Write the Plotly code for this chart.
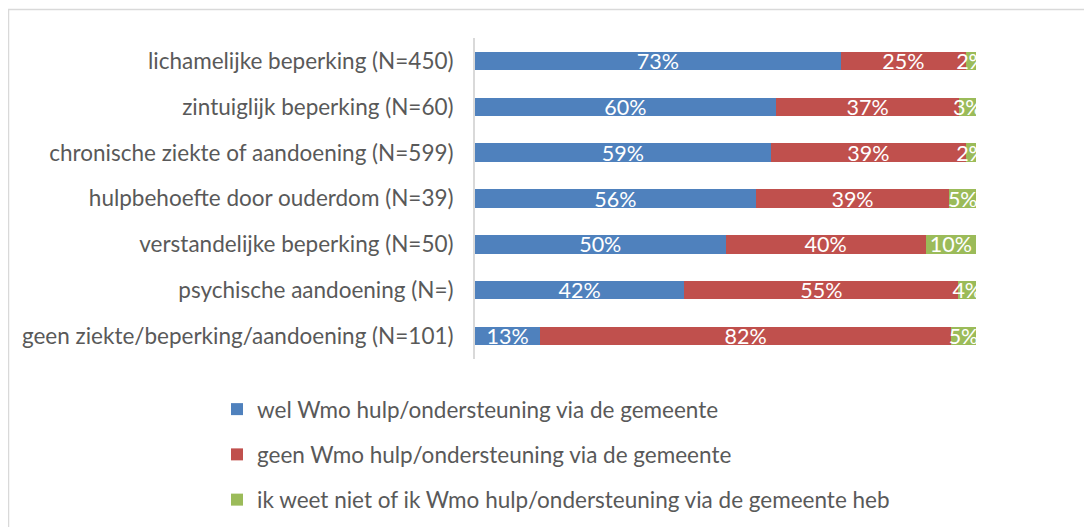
import plotly.graph_objects as go

categories = [
    "lichamelijke beperking (N=450)",
    "zintuiglijk beperking (N=60)",
    "chronische ziekte of aandoening (N=599)",
    "hulpbehoefte door ouderdom (N=39)",
    "verstandelijke beperking (N=50)",
    "psychische aandoening (N=)",
    "geen ziekte/beperking/aandoening (N=101)",
]
series_names = [
    "wel Wmo hulp/ondersteuning via de gemeente",
    "geen Wmo hulp/ondersteuning via de gemeente",
    "ik weet niet of ik Wmo hulp/ondersteuning via de gemeente heb",
]
wel = [73, 60, 59, 56, 50, 41.8, 13]
geen = [25, 36.7, 39, 38.7, 40, 54.7, 82]
weet_niet = [2, 3.3, 2, 5.3, 10, 3.5, 5]
wel_labels = ["73%", "60%", "59%", "56%", "50%", "42%", "13%"]
geen_labels = ["25%", "37%", "39%", "39%", "40%", "55%", "82%"]
weet_labels = ["2%", "3%", "2%", "5%", "10%", "4%", "5%"]
colors = ["#4F81BD", "#C0504D", "#9BBB59"]

FONT = "Lato"
W, H = 1092, 580
# page is offset by 8px body margin; these are figure coordinates
L, R, T, B = 467, 968, 30, 351

fig = go.Figure()
for i, (vals, labels) in enumerate([(wel, wel_labels), (geen, geen_labels), (weet_niet, weet_labels)]):
    fig.add_trace(go.Bar(
        y=categories, x=vals, orientation="h", name=series_names[i],
        marker=dict(color=colors[i], line=dict(width=0)),
        text=labels, textposition="inside", insidetextanchor="middle", textangle=0,
        textfont=dict(color="white", size=21.5, family=FONT),
        legendgroup=str(i), hoverinfo="skip",
    ))

pw = R - L
ph = B - T
def px(x):
    return (x - L) / pw
def py(y):
    return (B - y) / ph

fig.update_layout(
    width=W, height=H,
    margin=dict(l=L, r=W - R, t=T, b=H - B, pad=0),
    barmode="stack", bargap=0.6,
    paper_bgcolor="white", plot_bgcolor="white",
    font=dict(family=FONT, size=22.5, color="#595959"),
    uniformtext=dict(minsize=21.5, mode="show"),
    xaxis=dict(range=[0, 100], showgrid=False, zeroline=False, showticklabels=False,
               ticks="", showline=False, fixedrange=True),
    yaxis=dict(autorange="reversed", showgrid=False, zeroline=False, ticks="",
               showline=True, linecolor="#D9D9D9", linewidth=2,
               ticklabelstandoff=15, tickfont=dict(size=22.5, color="#595959", family=FONT)),
    legend=dict(x=px(209), xanchor="left", y=py(380), yanchor="top",
                orientation="v", traceorder="grouped", tracegroupgap=13,
                font=dict(size=22.5, color="#595959", family=FONT),
                itemwidth=30, bgcolor="rgba(0,0,0,0)"),
    showlegend=True,
    shapes=[dict(type="rect", xref="paper", yref="paper",
                 x0=px(0.5), x1=px(1110), y0=py(600), y1=py(1.5),
                 line=dict(color="#D9D9D9", width=1.5), fillcolor="rgba(0,0,0,0)",
                 layer="below")],
)

fig.write_html("out.html")
